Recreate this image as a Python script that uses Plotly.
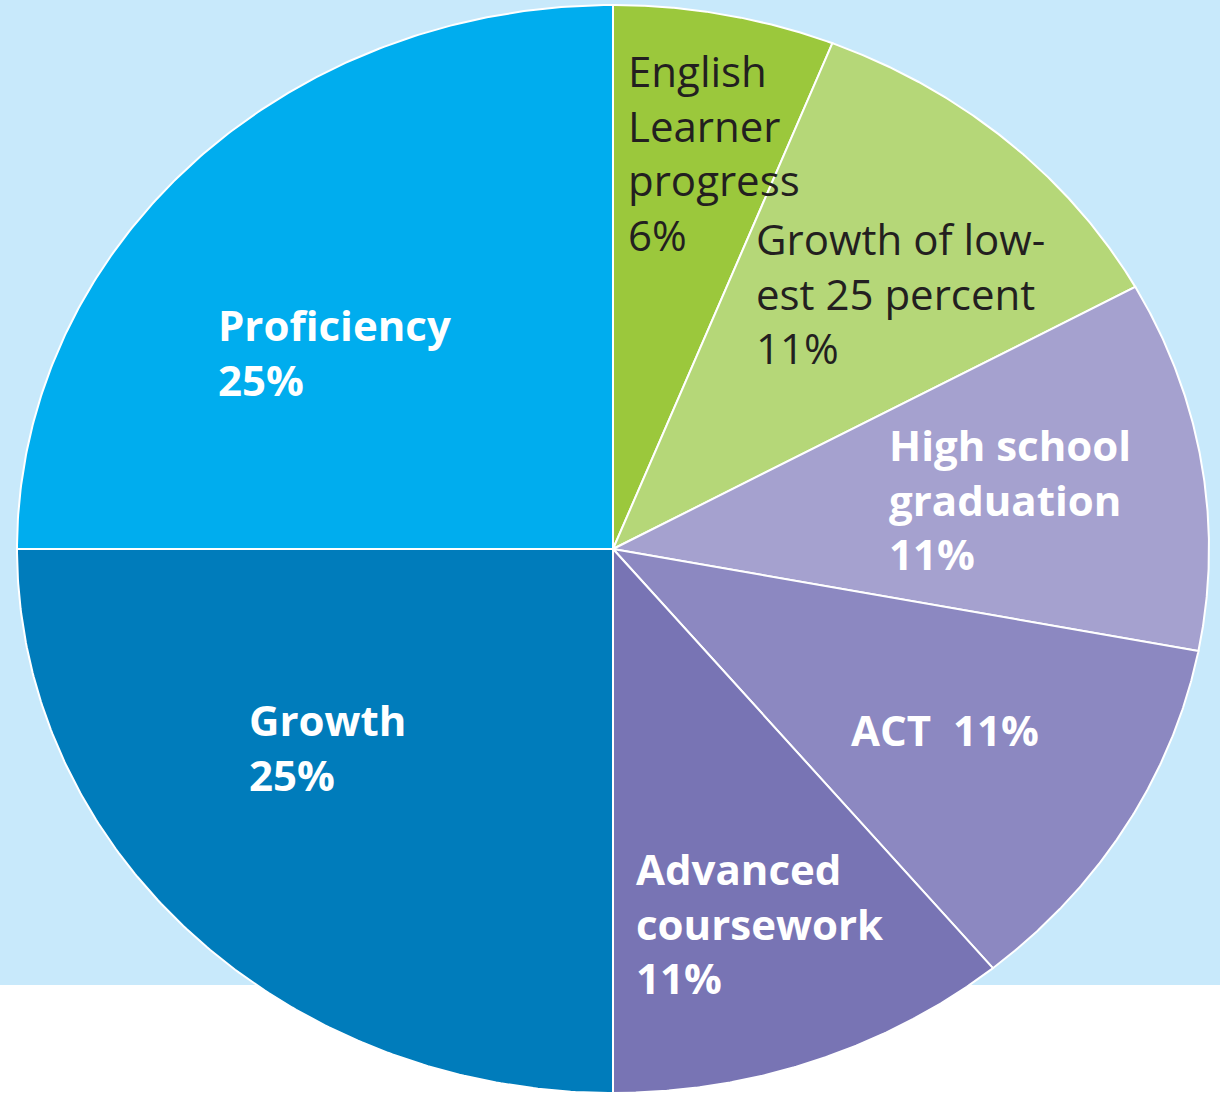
import numpy as np
import plotly.graph_objects as go

# ---- data ----
categories = ["English Learner progress", "Growth of lowest 25 percent", "High school graduation",
              "ACT", "Advanced coursework", "Growth", "Proficiency"]
values = [6, 11, 11, 11, 11, 25, 25]
label_lines = [["English", "Learner", "progress", "6%"],
               ["Growth of low-", "est 25 percent", "11%"],
               ["High school", "graduation", "11%"],
               ["ACT  11%"],
               ["Advanced", "coursework", "11%"],
               ["Growth", "25%"],
               ["Proficiency", "25%"]]

# ---- styles / layout ----
colors = ["#9BC83C", "#B5D778", "#A5A1CF", "#8C88C1", "#7874B4", "#007CBB", "#00ADEE"]
text_colors = ["#231F20", "#231F20", "white", "white", "white", "white", "white"]
bold = [False, False, True, True, True, True, True]
# (left x, mean baseline y of the label lines) in pixels
label_pos = [(626, 167.5), (754, 308.3), (887, 514.7), (849, 745), (634, 938.3), (247, 762.5), (216, 367.5)]
font_size = 42
line_gap = 1.3 * font_size
W, H = 1220, 1094
cx, cy, rx, ry = 613, 549, 596, 544
bg_bottom = 985

fig = go.Figure()
total = sum(values)
start = 0.0
for cat, v, col in zip(categories, values, colors):
    a0 = start / total * 2 * np.pi
    a1 = (start + v) / total * 2 * np.pi
    t = np.linspace(a0, a1, 200)
    xs = np.concatenate([[cx], cx + rx * np.sin(t), [cx]])
    ys = np.concatenate([[cy], cy - ry * np.cos(t), [cy]])
    fig.add_trace(go.Scatter(x=xs, y=ys, mode="lines", fill="toself", fillcolor=col,
                             line=dict(color="white", width=2), name=cat,
                             hoverinfo="name", showlegend=False))
    start += v

for lines, (lx, mb), tc, b in zip(label_lines, label_pos, text_colors, bold):
    n = len(lines)
    first_base = mb - (n - 1) / 2 * line_gap
    top = first_base - 1.069 * font_size - 1
    txt = "<br>".join(lines)
    fig.add_annotation(x=lx, y=top, xref="x", yref="y",
                       text=f"<b>{txt}</b>" if b else txt, showarrow=False,
                       xanchor="left", yanchor="top", align="left",
                       font=dict(family="Open Sans", size=font_size, color=tc))

fig.add_shape(type="rect", xref="x", yref="y", x0=0, x1=W, y0=0, y1=bg_bottom,
              fillcolor="#C8E9FB", line=dict(width=0), layer="below")

fig.update_layout(width=W, height=H, margin=dict(l=0, r=0, t=0, b=0),
                  paper_bgcolor="white", plot_bgcolor="rgba(0,0,0,0)",
                  xaxis=dict(range=[0, W], visible=False, fixedrange=True),
                  yaxis=dict(range=[H, 0], visible=False, fixedrange=True))
fig.write_html("out.html")
